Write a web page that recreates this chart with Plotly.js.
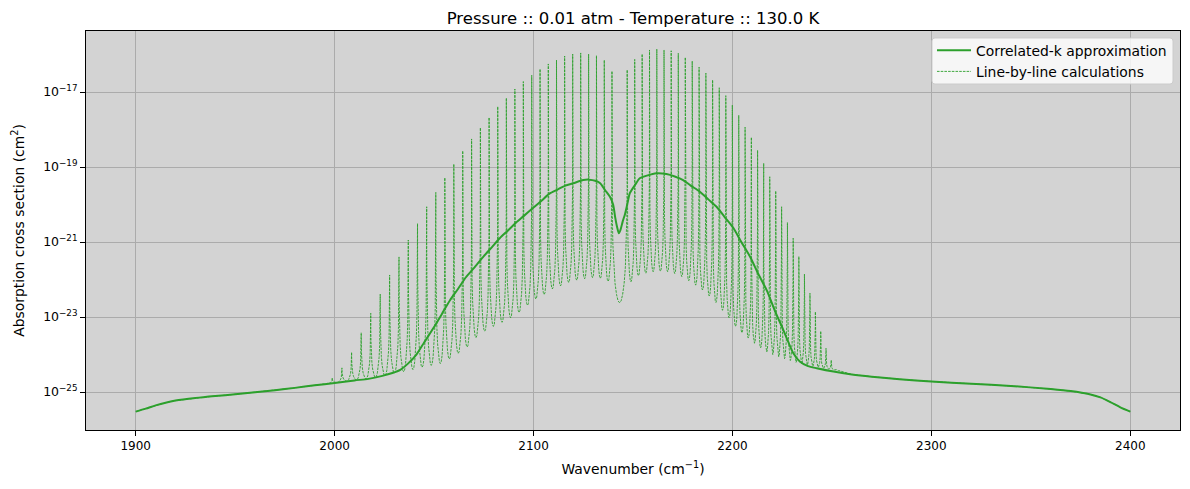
<!DOCTYPE html>
<html>
<head>
<meta charset="utf-8">
<script src="https://cdn.plot.ly/plotly-3.0.1.min.js"></script>
<style>
  html, body { margin: 0; padding: 0; background: #ffffff; }
  #chart { width: 1190px; height: 489px; }
</style>
</head>
<body>
<div id="chart"></div>
<script>
// CO fundamental band (v=0→1) at 0.01 atm and 130 K.

// P-branch line centres, P(33) … P(1), in cm^-1, and their peak cross sections (cm^2)
const pNu = [1998.78, 2003.67, 2008.53, 2013.36, 2018.15, 2022.92, 2027.65, 2032.36, 2037.03, 2041.67,
             2046.28, 2050.86, 2055.40, 2059.92, 2064.40, 2068.85, 2073.27, 2077.65, 2082.00, 2086.32,
             2090.61, 2094.86, 2099.08, 2103.27, 2107.42, 2111.54, 2115.63, 2119.68, 2123.70, 2127.68,
             2131.63, 2135.55, 2139.43];
const pPeak = [2.4e-25, 4.4e-25, 1.15e-24, 3.8e-24, 1.26e-23, 4.1e-23, 1.32e-22, 4.0e-22, 1.13e-21, 3.1e-21,
               8.7e-21, 2.1e-20, 5.2e-20, 1.2e-19, 2.7e-19, 5.6e-19, 1.12e-18, 2.1e-18, 4.1e-18, 6.9e-18,
               1.2e-17, 1.9e-17, 2.8e-17, 4.1e-17, 5.6e-17, 7.1e-17, 9.1e-17, 1.03e-16, 1.10e-16, 1.03e-16,
               9.3e-17, 7.1e-17, 3.6e-17];

// R-branch line centres, R(0) … R(33), and peak cross sections
const rNu = [2147.08, 2150.86, 2154.60, 2158.30, 2161.97, 2165.60, 2169.20, 2172.76, 2176.28, 2179.77,
             2183.22, 2186.64, 2190.02, 2193.36, 2196.66, 2199.93, 2203.16, 2206.35, 2209.51, 2212.63,
             2215.71, 2218.75, 2221.75, 2224.71, 2227.64, 2230.53, 2233.38, 2236.19, 2238.96, 2241.69,
             2244.38, 2247.03, 2249.64, 2252.22];
const rPeak = [3.9e-17, 7.4e-17, 1.03e-16, 1.32e-16, 1.40e-16, 1.32e-16, 1.26e-16, 1.08e-16, 8.4e-17, 6.7e-17,
               4.6e-17, 3.2e-17, 2.1e-17, 1.30e-17, 8.0e-18, 4.5e-18, 2.4e-18, 1.15e-18, 6.2e-19, 2.8e-19,
               1.26e-19, 5.5e-20, 2.3e-20, 8.7e-21, 3.3e-21, 1.26e-21, 4.1e-22, 1.40e-22, 4.3e-23, 1.38e-23,
               4.2e-24, 1.46e-24, 7.1e-25, 4.1e-25];

// Minimum of the line-by-line spectrum in each gap between neighbouring lines
// (first entry: left of P(33); last entry: right of R(33))
const gapMin = [1.66e-25,
  1.78e-25, 1.95e-25, 2.09e-25, 2.24e-25, 2.45e-25, 2.69e-25, 3.16e-25, 3.47e-25, 3.98e-25, 4.57e-25,
  5.13e-25, 5.75e-25, 7.59e-25, 1.07e-24, 1.58e-24, 2.82e-24, 4.17e-24, 5.62e-24, 7.24e-24, 9.55e-24,
  1.32e-23, 2.04e-23, 3.02e-23, 3.98e-23, 5.62e-23, 6.76e-23, 8.32e-23, 9.55e-23, 1.05e-22, 1.12e-22,
  1.07e-22, 8.91e-23,
  2.40e-23,
  8.71e-23, 1.26e-22, 1.48e-22, 1.62e-22, 1.66e-22, 1.62e-22, 1.45e-22, 1.20e-22, 9.33e-23, 7.08e-23,
  5.25e-23, 3.63e-23, 2.45e-23, 1.51e-23, 9.55e-24, 5.62e-24, 3.80e-24, 2.75e-24, 2.00e-24, 1.51e-24,
  1.17e-24, 1.00e-24, 8.71e-25, 7.76e-25, 6.92e-25, 6.17e-25, 5.62e-25, 5.25e-25, 4.79e-25, 4.57e-25,
  4.27e-25, 4.07e-25, 3.89e-25,
  3.72e-25];

// Wing shape of a line between its centre and the middle of the gap:
// distance from the centre as a fraction of the gap, and rise above the gap minimum (decades)
const wingFrac = [0.5, 0.4, 0.3, 0.2, 0.12, 0.06, 0.025, 0.008];
const wingRise = [0, 0.05, 0.22, 0.52, 0.95, 1.54, 2.3, 3.1];

// Correlated-k cross section
const ckNu = [1900, 1905, 1910, 1915, 1920, 1930, 1940, 1950, 1960, 1970,
              1980, 1990, 2000, 2010, 2017, 2024, 2029, 2033, 2037, 2041,
              2045, 2050, 2054, 2058, 2062, 2066, 2070, 2075, 2079, 2083,
              2087, 2091, 2095, 2100, 2104, 2108, 2112, 2116, 2120, 2125,
              2128, 2131, 2133.5, 2136, 2138.4, 2140, 2141, 2142, 2142.9, 2143.7,
              2144.8, 2146, 2147.5, 2148.4, 2151, 2153.4, 2157, 2161.8, 2166.8, 2171,
              2175.2, 2179, 2183.6, 2188, 2192, 2196, 2200.4, 2204, 2208.8, 2213,
              2217.2, 2221.5, 2225.6, 2228, 2230.6, 2234, 2238, 2242.4, 2250.8, 2260,
              2270, 2284, 2300, 2320, 2340, 2360, 2370, 2380, 2385, 2390, 2395, 2400];
const ckVal = [3.0e-26, 3.6e-26, 4.4e-26, 5.2e-26, 5.9e-26, 6.9e-26, 7.8e-26, 8.7e-26, 9.8e-26, 1.12e-25,
               1.29e-25, 1.51e-25, 1.74e-25, 2.04e-25, 2.24e-25, 2.69e-25, 3.2e-25, 3.9e-25, 5.8e-25, 9.8e-25,
               2.1e-24, 5.4e-24, 1.23e-23, 2.8e-23, 5.6e-23, 1.15e-22, 2.0e-22, 4.2e-22, 7.2e-22, 1.26e-21,
               2.0e-21, 3.2e-21, 4.9e-21, 8.3e-21, 1.26e-20, 1.95e-20, 2.5e-20, 3.2e-20, 3.7e-20, 4.5e-20,
               4.6e-20, 4.3e-20, 3.7e-20, 2.4e-20, 1.6e-20, 1.0e-20, 4.7e-21, 2.5e-21, 1.7e-21, 2.1e-21,
               3.5e-21, 5.6e-21, 1.26e-20, 2.0e-20, 3.3e-20, 5.0e-20, 5.9e-20, 6.8e-20, 6.5e-20, 5.6e-20,
               4.5e-20, 3.2e-20, 2.2e-20, 1.35e-20, 8.7e-21, 4.7e-21, 2.4e-21, 1.1e-21, 4.1e-22, 1.4e-22,
               5.2e-23, 1.4e-23, 4.5e-24, 2.2e-24, 1.08e-24, 6.4e-25, 4.9e-25, 4.3e-25, 3.5e-25, 2.95e-25,
               2.57e-25, 2.19e-25, 1.91e-25, 1.66e-25, 1.45e-25, 1.2e-25, 1.06e-25, 8.6e-26, 7.2e-26, 5.4e-26, 3.9e-26, 3.0e-26];

const GREEN = '#2ca02c';
const FONT = 'DejaVu Sans, Liberation Sans, sans-serif';

// Assemble the line-by-line trace: line centres with Lorentz-like wings down to each gap minimum
function buildLineByLine() {
  const nu = pNu.concat(rNu);
  const peak = pPeak.concat(rPeak);
  const n = nu.length;
  const xs = [], ys = [];
  const firstEdge = nu[0] - 0.5 * (nu[1] - nu[0]);
  const lastEdge = nu[n - 1] + 0.5 * (nu[n - 1] - nu[n - 2]);

  for (let k = 0; k < ckNu.length; k++) {
    if (ckNu[k] < firstEdge - 0.5) { xs.push(ckNu[k]); ys.push(ckVal[k]); }
  }
  for (let i = 0; i < n; i++) {
    const lp = Math.log10(peak[i]);
    const wL = i > 0 ? nu[i] - nu[i - 1] : nu[1] - nu[0];
    const wR = i < n - 1 ? nu[i + 1] - nu[i] : nu[n - 1] - nu[n - 2];
    const tL = Math.log10(gapMin[i]);
    const tR = Math.log10(gapMin[i + 1]);
    const sL = Math.max(0, Math.min(1, (lp - tL) / 4));
    const sR = Math.max(0, Math.min(1, (lp - tR) / 4));
    // left wing (from gap middle towards the centre)
    for (let k = (i === 0 ? 0 : 1); k < wingFrac.length; k++) {
      xs.push(nu[i] - wingFrac[k] * wL);
      ys.push(Math.pow(10, Math.min(tL + wingRise[k] * sL, lp)));
    }
    xs.push(nu[i]); ys.push(peak[i]);
    // right wing (from the centre out to the gap middle)
    for (let k = wingFrac.length - 1; k >= 0; k--) {
      xs.push(nu[i] + wingFrac[k] * wR);
      ys.push(Math.pow(10, Math.min(tR + wingRise[k] * sR, lp)));
    }
  }
  for (let k = 0; k < ckNu.length; k++) {
    if (ckNu[k] > lastEdge + 0.5) { xs.push(ckNu[k]); ys.push(ckVal[k]); }
  }
  return { xs, ys };
}

const lbl = buildLineByLine();

const traces = [
  {
    x: ckNu, y: ckVal, type: 'scatter', mode: 'lines',
    name: 'Correlated-k approximation',
    line: { color: GREEN, width: 2, shape: 'spline', smoothing: 0.7 }
  },
  {
    x: lbl.xs, y: lbl.ys, type: 'scatter', mode: 'lines',
    name: 'Line-by-line calculations',
    line: { color: GREEN, width: 0.9, dash: '2.6px,1.1px' }
  }
];

const yTickVals = [1e-25, 1e-23, 1e-21, 1e-19, 1e-17];
const yTickText = ['10<sup>\u221225</sup>', '10<sup>\u221223</sup>', '10<sup>\u221221</sup>',
                   '10<sup>\u221219</sup>', '10<sup>\u221217</sup>'];
const xTickVals = [1900, 2000, 2100, 2200, 2300, 2400];

// Legend frame (rounded box) in paper coordinates
const bx0 = 0.7733, bx1 = 0.9936, by0 = 0.8672, by1 = 0.9825, rx = 0.0027, ry = 0.0075;
const legendFrame = [
  'M', bx0 + rx, by0, 'L', bx1 - rx, by0, 'Q', bx1, by0, bx1, by0 + ry,
  'L', bx1, by1 - ry, 'Q', bx1, by1, bx1 - rx, by1,
  'L', bx0 + rx, by1, 'Q', bx0, by1, bx0, by1 - ry,
  'L', bx0, by0 + ry, 'Q', bx0, by0, bx0 + rx, by0, 'Z'
].join(' ');

const layout = {
  width: 1190, height: 489,
  margin: { l: 86, r: 10, t: 31, b: 59, pad: 0 },
  paper_bgcolor: '#ffffff',
  plot_bgcolor: '#d3d3d3',
  font: { family: FONT, color: '#000000', size: 12 },
  title: {
    text: 'Pressure :: 0.01 atm - Temperature :: 130.0 K',
    font: { family: FONT, size: 16.5, color: '#000000' },
    x: 0.5, xref: 'paper', y: 1 - 18 / 489, yref: 'container', yanchor: 'middle'
  },
  xaxis: {
    range: [1875, 2425],
    tickvals: xTickVals,
    ticktext: xTickVals.map(String),
    ticks: 'outside', ticklen: 5, tickwidth: 1, tickcolor: '#000000',
    showline: true, mirror: true, linecolor: '#000000', linewidth: 1,
    showgrid: true, gridcolor: '#ababab', gridwidth: 1,
    zeroline: false,
    tickfont: { family: FONT, size: 12, color: '#000000' },
    title: { text: 'Wavenumber (cm<sup>\u22121</sup>)', font: { family: FONT, size: 13.9, color: '#000000' }, standoff: 11 }
  },
  yaxis: {
    type: 'log',
    range: [-26.013, -15.373],
    tickvals: yTickVals,
    ticktext: yTickText,
    ticks: 'outside', ticklen: 5, tickwidth: 1, tickcolor: '#000000',
    showline: true, mirror: true, linecolor: '#000000', linewidth: 1,
    showgrid: true, gridcolor: '#ababab', gridwidth: 1,
    zeroline: false,
    tickfont: { family: FONT, size: 12.5, color: '#000000' },
    title: { text: 'Absorption cross section (cm<sup>2</sup>)', font: { family: FONT, size: 13.9, color: '#000000' }, standoff: 15 }
  },
  shapes: [{
    type: 'path', xref: 'paper', yref: 'paper', layer: 'above',
    path: legendFrame,
    fillcolor: 'rgba(255,255,255,0.8)',
    line: { color: '#cccccc', width: 1 }
  }],
  legend: {
    x: 0.7733, xanchor: 'left', y: 0.9905, yanchor: 'top',
    bgcolor: 'rgba(0,0,0,0)', borderwidth: 0,
    font: { family: FONT, size: 13.9, color: '#000000' },
    itemwidth: 34,
    tracegroupgap: 0
  },
  showlegend: true
};

Plotly.newPlot('chart', traces, layout, { displayModeBar: false, staticPlot: true });
</script>
</body>
</html>
